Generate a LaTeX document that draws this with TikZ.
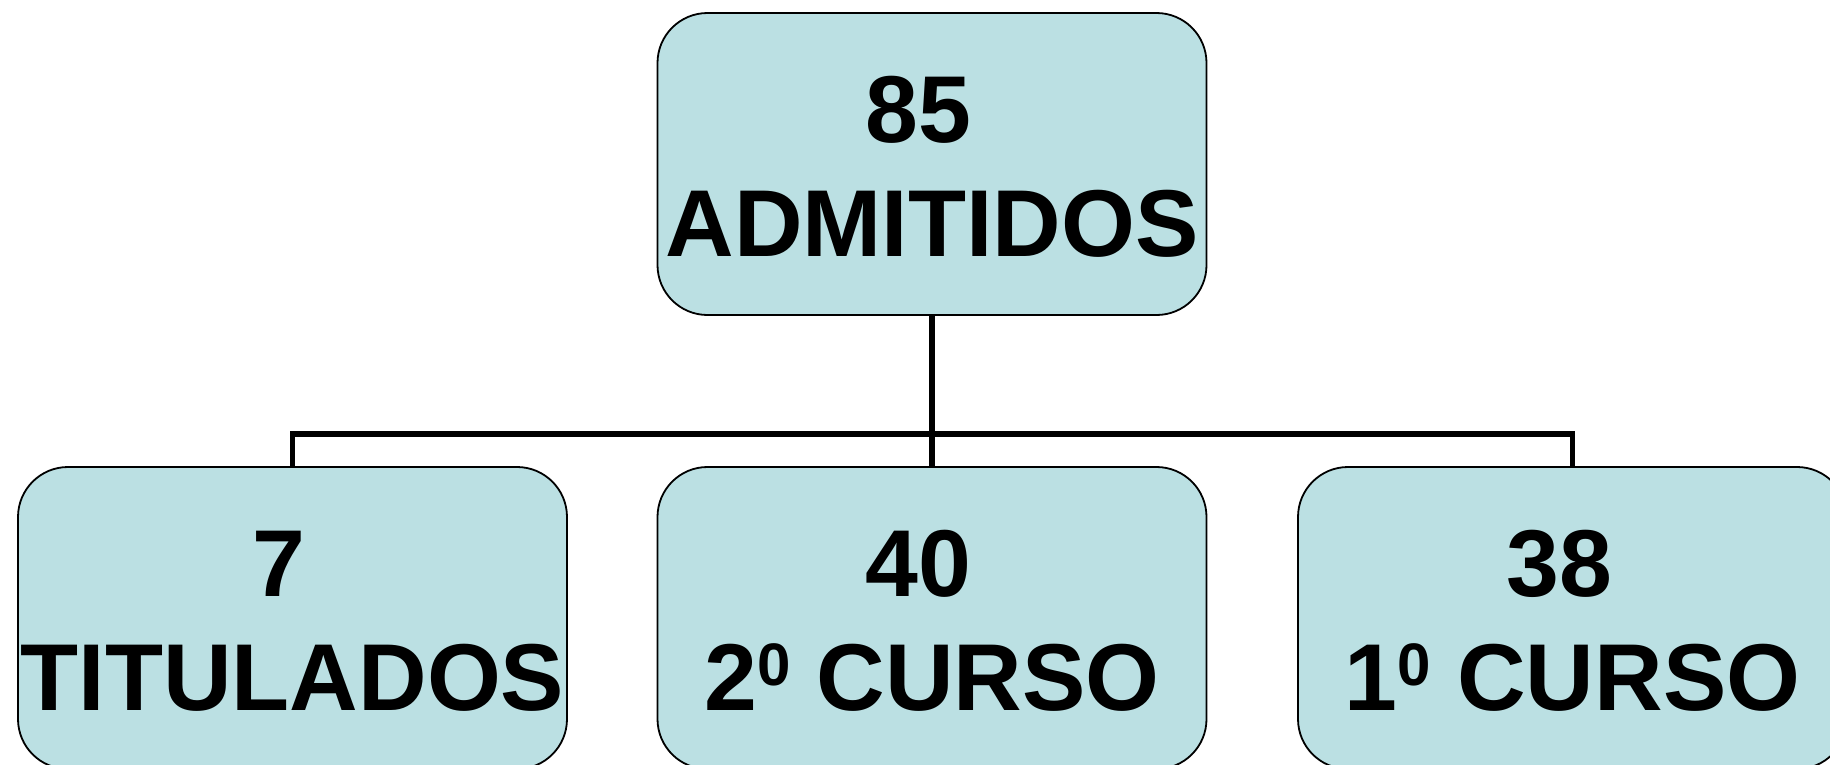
\documentclass[tikz,border=0pt]{standalone}
\usepackage{fontspec}
\setmainfont{Liberation Sans}
\definecolor{boxfill}{HTML}{BBE0E3}
\newcommand{\supzero}{\raisebox{25pt}{\fontsize{60}{60}\selectfont 0}}
\newcommand{\numline}[1]{#1\kern0.28em\rule{0pt}{71pt}}
\begin{document}
\begin{tikzpicture}[x=1pt,y=-1pt,
  box/.style={draw=black, line width=1.8pt, fill=boxfill, rounded corners=50pt,
    minimum width=549pt, minimum height=302pt, inner sep=0pt, align=center,
    font=\bfseries\fontsize{95}{114}\selectfont},
  link/.style={draw=black, line width=5.3pt}]
\path[use as bounding box, clip] (0,0) rectangle (1830,764);
\fill[white] (0,0) rectangle (1830,764);
\node[box] (top) at (932,164) {\numline{85}\\ADMITIDOS};
\node[box] (left) at (292.5,618) {\numline{7}\\TITULADOS};
\node[box] (mid) at (932,618) {\numline{40}\\2\supzero{} CURSO};
\node[box] (right) at (1572.5,618) {\numline{38}\\1\supzero{} CURSO};
\draw[link] (top.south) -- (mid.north);
\draw[link] (left.north) -- ++(0,-32) -| (right.north);
\end{tikzpicture}
\end{document}
